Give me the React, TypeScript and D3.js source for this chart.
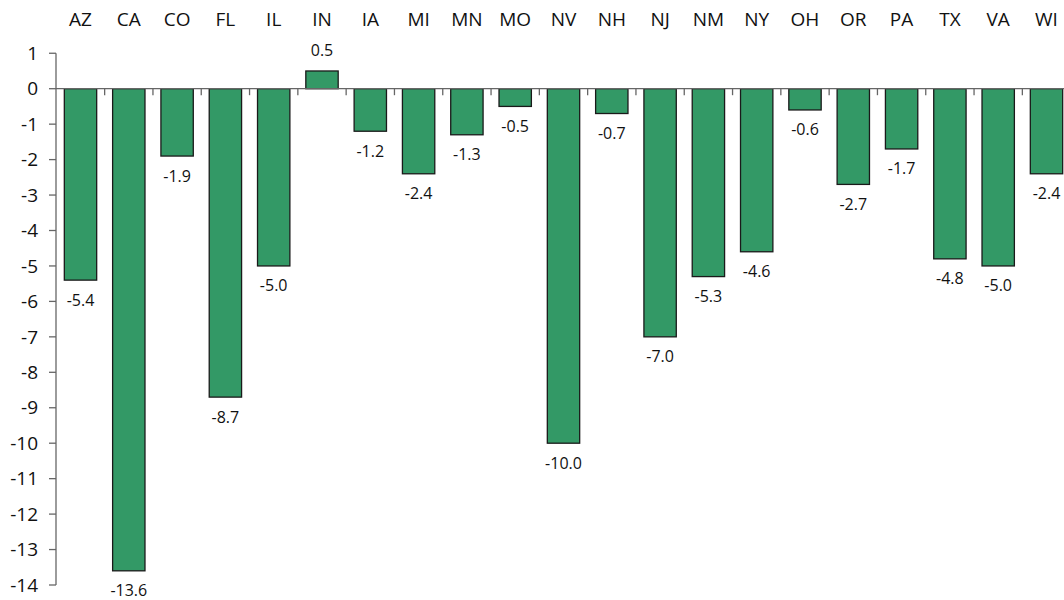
import React from "react";
import * as d3 from "d3";

const states = ["AZ","CA","CO","FL","IL","IN","IA","MI","MN","MO","NV","NH","NJ","NM","NY","OH","OR","PA","TX","VA","WI"];
const values = [-5.4,-13.6,-1.9,-8.7,-5.0,0.5,-1.2,-2.4,-1.3,-0.5,-10.0,-0.7,-7.0,-5.3,-4.6,-0.6,-2.7,-1.7,-4.8,-5.0,-2.4];
const yTicks = [1,0,-1,-2,-3,-4,-5,-6,-7,-8,-9,-10,-11,-12,-13,-14];

const W = 1064, H = 600;
const FONT = "'Open Sans', sans-serif";

export default function App() {
  const x = d3.scaleBand<string>().domain(states).range([56.35, 1070.65]).paddingInner(0.33).paddingOuter(0.165);
  const y = d3.scaleLinear().domain([1, -14]).range([53.25, 585.0]);
  const step = x.step();
  const x0 = 56.35;
  const y0 = y(0);
  const axisColor = "#666";
  return (
    <svg width={W} height={H} style={{ position: "absolute", left: 0, top: 0, background: "#fff" }} fontFamily={FONT}>
      {/* category labels */}
      {states.map((s) => (
        <text key={"c" + s} x={(x(s) as number) + x.bandwidth() / 2} y={26} textAnchor="middle" fontSize={19} fill="#111">{s}</text>
      ))}
      {/* bars */}
      {states.map((s, i) => {
        const v = values[i];
        const top = Math.min(y(v), y0);
        const h = Math.abs(y(v) - y0);
        return (
          <rect key={"b" + s} x={x(s) as number} y={top} width={x.bandwidth()} height={h} fill="#339966" stroke="#1a1a1a" strokeWidth={1.3} />
        );
      })}
      {/* y axis */}
      <line x1={56} x2={56} y1={y(1)} y2={y(-14)} stroke={axisColor} strokeWidth={1.3} />
      {yTicks.map((t) => (
        <g key={"t" + t}>
          <line x1={49} x2={56} y1={y(t)} y2={y(t)} stroke={axisColor} strokeWidth={1.3} />
          <text x={38} y={y(t)} dy="0.35em" textAnchor="end" fontSize={19} fill="#111">{t}</text>
        </g>
      ))}
      {/* zero line & x ticks */}
      <line x1={56} x2={W} y1={y0} y2={y0} stroke={axisColor} strokeWidth={1.3} />
      {states.map((s, i) => (
        <line key={"xt" + s} x1={x0 + (i + 1) * step} x2={x0 + (i + 1) * step} y1={y0} y2={y0 + 6.5} stroke={axisColor} strokeWidth={1.3} />
      ))}
      {/* value labels */}
      {states.map((s, i) => {
        const v = values[i];
        const cx = (x(s) as number) + x.bandwidth() / 2;
        const ty = v >= 0 ? y(v) - 14.5 : y(v) + 25.5;
        return (
          <text key={"v" + s} x={cx} y={ty} textAnchor="middle" fontSize={16} fill="#111">{v.toFixed(1)}</text>
        );
      })}
    </svg>
  );
}
